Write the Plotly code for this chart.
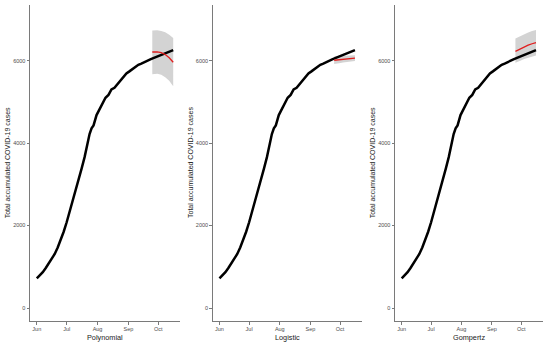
import plotly.graph_objects as go

# Observed accumulated cases (2020)
obs_dates = ["2020-06-01","2020-06-04","2020-06-07","2020-06-10","2020-06-13","2020-06-16",
             "2020-06-19","2020-06-22","2020-06-25","2020-06-28","2020-07-01","2020-07-04",
             "2020-07-07","2020-07-10","2020-07-13","2020-07-16","2020-07-19","2020-07-22",
             "2020-07-24","2020-07-26","2020-07-28","2020-07-31","2020-08-03","2020-08-06",
             "2020-08-09","2020-08-12","2020-08-15","2020-08-18","2020-08-21","2020-08-24",
             "2020-08-27","2020-08-30","2020-09-02","2020-09-05","2020-09-08","2020-09-11",
             "2020-09-14","2020-09-17","2020-09-20","2020-09-23","2020-09-26","2020-09-29",
             "2020-10-02","2020-10-05","2020-10-08","2020-10-11","2020-10-14","2020-10-16"]
obs_cases = [720, 790, 870, 970, 1080, 1180,
             1310, 1470, 1650, 1850, 2080, 2330,
             2590, 2850, 3110, 3380, 3660, 4000,
             4220, 4360, 4430, 4680, 4820, 4960,
             5100, 5170, 5300, 5340, 5430, 5520,
             5600, 5690, 5740, 5800, 5850, 5900,
             5930, 5970, 6000, 6030, 6060, 6090,
             6130, 6160, 6190, 6210, 6240, 6255]

# Forecast dates
fc_dates = ["2020-09-25","2020-09-30","2020-10-04","2020-10-08","2020-10-12","2020-10-16"]

poly_fit   = [6210, 6215, 6195, 6150, 6070, 5960]
poly_upper = [6730, 6735, 6720, 6690, 6630, 6550]
poly_lower = [5670, 5680, 5660, 5600, 5510, 5380]

logi_fit   = [6010, 6025, 6038, 6048, 6055, 6060]
logi_upper = [6105, 6112, 6118, 6122, 6126, 6130]
logi_lower = [5920, 5940, 5958, 5972, 5983, 5990]

gomp_fit   = [6225, 6290, 6335, 6375, 6410, 6440]
gomp_upper = [6540, 6600, 6645, 6685, 6718, 6745]
gomp_lower = [5950, 6000, 6040, 6075, 6100, 6125]

panel_names = ["Polynomial", "Logistic", "Gompertz"]
y_title = "Total accumulated COVID-19 cases"
x_tickvals = ["2020-06-01","2020-07-01","2020-08-01","2020-09-01","2020-10-01"]
x_ticktext = ["Jun","Jul","Aug","Sep","Oct"]
y_tickvals = [0, 2000, 4000, 6000]

models = [(poly_fit, poly_upper, poly_lower),
          (logi_fit, logi_upper, logi_lower),
          (gomp_fit, gomp_upper, gomp_lower)]

W, H = 550, 344
x_px = [(30, 180), (212.7, 361.7), (395, 542.7)]
y_top, y_bot = 5, 321
y_rng = [-315, 7350]

def fx(px):
    return px / W

def fy(py):
    return 1 - py / H

fig = go.Figure()
for i, (fit, up, lo) in enumerate(models):
    n = "" if i == 0 else str(i + 1)
    xa, ya = "x" + n, "y" + n
    fig.add_trace(go.Scatter(x=fc_dates + fc_dates[::-1], y=up + lo[::-1], fill="toself",
                             fillcolor="rgb(211,211,211)", line=dict(width=0), mode="lines",
                             hoverinfo="skip", showlegend=False, xaxis=xa, yaxis=ya))
    fig.add_trace(go.Scatter(x=obs_dates, y=obs_cases, mode="lines",
                             line=dict(color="black", width=2.5), showlegend=False,
                             xaxis=xa, yaxis=ya))
    fig.add_trace(go.Scatter(x=fc_dates, y=fit, mode="lines",
                             line=dict(color="rgb(225,30,30)", width=1.3), showlegend=False,
                             xaxis=xa, yaxis=ya))

FONT = "Liberation Sans, Arial, sans-serif"
tickfont = dict(family=FONT, size=5.5, color="#4d4d4d")
axis_common = dict(showgrid=False, zeroline=False, showline=True, linecolor="#7a7a7a",
                   linewidth=1, ticks="outside", ticklen=2.5, tickcolor="#7a7a7a",
                   tickwidth=1, tickfont=tickfont)
layout = dict(width=W, height=H, margin=dict(l=0, r=0, t=0, b=0),
              plot_bgcolor="white", paper_bgcolor="white", showlegend=False)
annotations = []
for i in range(3):
    n = "" if i == 0 else str(i + 1)
    x0, x1 = x_px[i]
    layout["xaxis" + n] = dict(axis_common, domain=[fx(x0), fx(x1)],
                               range=["2020-05-25 04:00", "2020-10-22 20:00"],
                               tickvals=x_tickvals, ticktext=x_ticktext,
                               anchor="y" + n)
    layout["yaxis" + n] = dict(axis_common, domain=[fy(y_bot), fy(y_top)],
                               range=y_rng, tickvals=y_tickvals,
                               anchor="x" + n)
    annotations.append(dict(text=panel_names[i], xref="paper", yref="paper",
                            x=fx((x0 + x1) / 2), y=fy(337), showarrow=False,
                            xanchor="center", yanchor="middle",
                            font=dict(family=FONT, size=7.3, color="#1a1a1a")))
    annotations.append(dict(text=y_title, xref="paper", yref="paper",
                            x=fx(x0 - 21.7), y=fy(163), showarrow=False, textangle=-90,
                            xanchor="center", yanchor="middle",
                            font=dict(family=FONT, size=7, color="#1a1a1a")))
layout["annotations"] = annotations
fig.update_layout(**layout)
fig.write_html("out.html", config={"displayModeBar": False},
               post_script="document.body.style.margin='0px';")
